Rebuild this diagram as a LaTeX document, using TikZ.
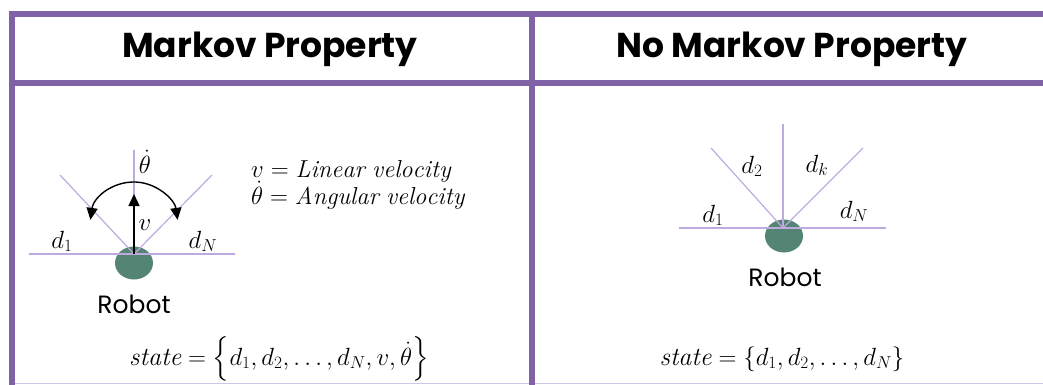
\documentclass[tikz,border=0pt]{standalone}
\usepackage{amsmath}
\usepackage{fontspec}
\usepackage{tikz}
\usetikzlibrary{arrows.meta,shapes.geometric,calc}
\newfontfamily\headfont{Poppins}
\definecolor{framepurple}{RGB}{128,98,168}
\definecolor{raylilac}{RGB}{190,170,220}
\definecolor{robotgreen}{RGB}{84,132,116}

\tikzset{
  frameline/.style={framepurple,line width=6pt},
  ray/.style={raylilac,line width=1.2pt},
  robot/.style={fill=robotgreen,draw=none,ellipse,minimum width=38pt,minimum height=33pt,inner sep=0pt},
  lbl/.style={font=\fontsize{26}{28}\selectfont,anchor=base,inner sep=1pt},
  legendlbl/.style={font=\fontsize{24.5}{26}\selectfont,anchor=base west,inner sep=0pt},
  robotlbl/.style={font=\headfont\fontsize{25}{27}\selectfont,anchor=base},
  head/.style={font=\headfont\bfseries\fontsize{34.5}{38}\selectfont,anchor=base},
  motion/.style={black,line width=1.4pt,>={Triangle[length=12pt,width=11pt]}}
}

\begin{document}
\begin{tikzpicture}[x=1pt,y=-1pt]
  \useasboundingbox (0,0) rectangle (1043,385);
  % table frame
  \draw[raylilac!70,line width=1.5pt](11,383.5)--(1043,383.5);
  \draw[frameline](8.5,14)--(1043,14);
  \draw[frameline](11.5,11)--(11.5,385);
  \draw[frameline](11.5,83.5)--(1043,83.5);
  \draw[frameline](531.5,14)--(531.5,385);
  \node[head] (hL) at (270,58) {Markov Property};
  \node[head] (hR) at (792,58) {No Markov Property};

  % left: with velocities
  \node[robot] (rob1) at (134,263) {};
  \coordinate (o1) at (134,254);
  \coordinate (o1w) at (29,254); \coordinate (o1e) at (235,254);
  \coordinate (o1nw) at (60,175); \coordinate (o1ne) at (212,175);
  \coordinate (o1n) at (134,150);
  \draw[ray](o1w)--(o1e);
  \draw[ray](o1)--(o1nw); \draw[ray](o1)--(o1ne); \draw[ray](o1)--(o1n);
  \coordinate (vtip) at (134,194);
  \draw[motion,->](o1)--(vtip);
  \coordinate (arcc) at (134,226);
  \draw[motion,<->]
    ($(arcc)+(188:44)$) arc[start angle=188,end angle=352,radius=44];
  \node[lbl] (thd) at (145,173) {$\dot{\theta}$};
  \node[lbl] (vl) at (145,230) {$v$};
  \node[lbl] (d1L) at (62,248) {$d_1$};
  \node[lbl] (dNL) at (203,248) {$d_N$};
  \node[robotlbl] (rl1) at (134,313) {Robot};
  \node[legendlbl] (lin) at (251,177) {$v = \mathit{Linear\ velocity}$};
  \node[legendlbl] (ang) at (251,204) {$\dot{\theta} = \mathit{Angular\ velocity}$};
  \node[lbl] (stL) at (279,365) {$\mathit{state} = \left\{d_1, d_2, \dots, d_N, v, \dot{\theta}\right\}$};

  % right: distances only
  \node[robot] (rob2) at (784,236) {};
  \coordinate (o2) at (783,228);
  \coordinate (o2w) at (679,228); \coordinate (o2e) at (886,228);
  \coordinate (o2nw) at (711,148); \coordinate (o2ne) at (863,148);
  \coordinate (o2n) at (783,124);
  \draw[ray](o2w)--(o2e);
  \draw[ray](o2)--(o2nw); \draw[ray](o2)--(o2ne); \draw[ray](o2)--(o2n);
  \node[lbl] (d2R) at (752,173) {$d_2$};
  \node[lbl] (dkR) at (817,172) {$d_k$};
  \node[lbl] (d1R) at (713,222) {$d_1$};
  \node[lbl] (dNR) at (854,218) {$d_N$};
  \node[robotlbl] (rl2) at (785,286) {Robot};
  \node[lbl] (stR) at (782,365) {$\mathit{state} = \{d_1, d_2, \dots, d_N\}$};
\end{tikzpicture}
\end{document}
